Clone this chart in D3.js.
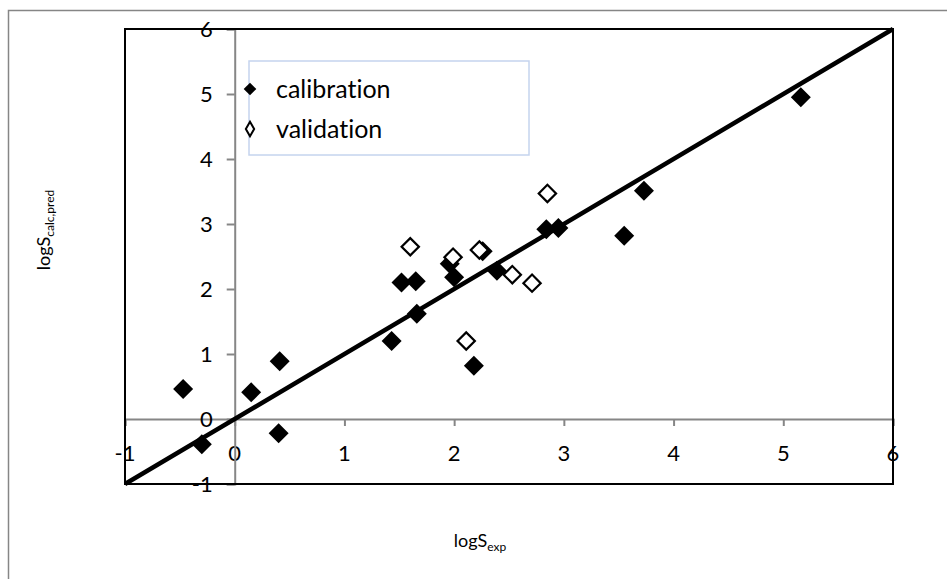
<!DOCTYPE html>
<html>
<head>
<meta charset="utf-8">
<script src="https://cdn.jsdelivr.net/npm/d3@7"></script>
<style>
  html, body { margin: 0; padding: 0; background: #fff; }
  svg { display: block; font-family: Lato, "Open Sans", sans-serif; font-variant-ligatures: none; font-feature-settings: "liga" 0, "dlig" 0; }
</style>
</head>
<body>
<svg id="chart" width="947" height="579"></svg>
<script>
// ---- data ----
const calX = [-0.47, -0.30, 0.15, 0.41, 0.40, 1.43, 1.66, 1.52, 1.65, 2.18, 1.96, 2.00, 2.26, 2.39, 2.84, 2.95, 3.55, 3.73, 5.16];
const calY = [0.46, -0.39, 0.41, 0.89, -0.22, 1.20, 1.62, 2.10, 2.12, 0.82, 2.39, 2.18, 2.58, 2.28, 2.92, 2.94, 2.82, 3.51, 4.95];
const valX = [1.60, 1.99, 2.23, 2.53, 2.71, 2.11, 2.85];
const valY = [2.65, 2.49, 2.60, 2.22, 2.09, 1.20, 3.47];
const ticks = [-1, 0, 1, 2, 3, 4, 5, 6];
const lineX = [-1, 6];
const lineY = [-1, 6];
const seriesNames = ["calibration", "validation"];

// ---- layout ----
const svg = d3.select("#chart");
const W = 947, H = 579;
const plot = { left: 125, right: 893, top: 29, bottom: 484 };
const x = d3.scaleLinear().domain([-1, 6]).range([plot.left, plot.right]);
const y = d3.scaleLinear().domain([-1, 6]).range([plot.bottom, plot.top]);
const gray = "#868686";

// outer chart border (top + left visible)
svg.append("rect").attr("x", 8.5).attr("y", 10.5).attr("width", W + 10).attr("height", H + 10)
  .attr("fill", "none").attr("stroke", gray).attr("stroke-width", 1.5);

// x axis at y=0
const xAxis = d3.axisBottom(x).tickValues(ticks).tickSize(7).tickFormat("");
const gx = svg.append("g").attr("transform", `translate(0,${y(0)})`).call(xAxis);
gx.select(".domain").attr("stroke", gray).attr("stroke-width", 2);
gx.selectAll(".tick line").attr("stroke", gray).attr("stroke-width", 2);
svg.append("g").selectAll("text").data(ticks).join("text")
  .attr("x", d => x(d)).attr("y", y(0) + 42)
  .attr("text-anchor", "middle").attr("font-size", 22).attr("fill", "#000")
  .text(d => d);

// y axis at x=0
const yAxis = d3.axisLeft(y).tickValues(ticks).tickSize(8).tickFormat("");
const gy = svg.append("g").attr("transform", `translate(${x(0)},0)`).call(yAxis);
gy.select(".domain").attr("stroke", gray).attr("stroke-width", 2);
gy.selectAll(".tick line").attr("stroke", gray).attr("stroke-width", 2);
svg.append("g").selectAll("text").data(ticks).join("text")
  .attr("x", x(0) - 22).attr("y", d => y(d) + 8)
  .attr("text-anchor", "end").attr("font-size", 22).attr("fill", "#000")
  .text(d => d);

// plot frame
svg.append("rect").attr("x", plot.left).attr("y", plot.top)
  .attr("width", plot.right - plot.left).attr("height", plot.bottom - plot.top)
  .attr("fill", "none").attr("stroke", "#000").attr("stroke-width", 2);

// diamonds
const bigFilled = d3.symbol().type(d3.symbolSquare).size(200)();
const bigOpen = d3.symbol().type(d3.symbolSquare).size(150)();

svg.append("g").selectAll("path").data(calX.map((v, i) => [v, calY[i]])).join("path")
  .attr("d", bigFilled)
  .attr("transform", d => `translate(${x(d[0])},${y(d[1])}) rotate(45)`)
  .attr("fill", "#000");

// 1:1 line
svg.append("line")
  .attr("x1", x(lineX[0])).attr("y1", y(lineY[0]))
  .attr("x2", x(lineX[1])).attr("y2", y(lineY[1]))
  .attr("stroke", "#000").attr("stroke-width", 4.5);

svg.append("g").selectAll("path").data(valX.map((v, i) => [v, valY[i]])).join("path")
  .attr("d", bigOpen)
  .attr("transform", d => `translate(${x(d[0])},${y(d[1])}) rotate(45)`)
  .attr("fill", "#fff").attr("stroke", "#000").attr("stroke-width", 2.2);

// legend
const lg = svg.append("g");
lg.append("rect").attr("x", 249).attr("y", 61).attr("width", 280).attr("height", 94)
  .attr("fill", "#fff").attr("stroke", "#c5d4ee").attr("stroke-width", 1.5);
lg.append("path").attr("d", d3.symbol().type(d3.symbolSquare).size(80)())
  .attr("transform", "translate(250,89) rotate(45)").attr("fill", "#000");
lg.append("path").attr("d", d3.symbol().type(d3.symbolDiamond).size(60)())
  .attr("transform", "translate(250,129)").attr("fill", "#fff")
  .attr("stroke", "#000").attr("stroke-width", 2);
lg.selectAll("text.lt").data(seriesNames).join("text").attr("class", "lt")
  .attr("x", 276).attr("y", (d, i) => 98 + i * 40)
  .attr("font-size", 25).attr("fill", "#000").text(d => d);

// axis titles
const xt = svg.append("text").attr("x", 480).attr("y", 547)
  .attr("text-anchor", "middle").attr("font-size", 18).attr("fill", "#000");
xt.append("tspan").text("logS");
xt.append("tspan").attr("font-size", 12).attr("dy", 4).text("exp");

const yt = svg.append("text").attr("transform", "translate(50,230) rotate(-90)")
  .attr("text-anchor", "middle").attr("font-size", 18).attr("fill", "#000");
yt.append("tspan").text("logS");
yt.append("tspan").attr("font-size", 12).attr("dy", 4).text("calc,pred");
</script>
</body>
</html>
